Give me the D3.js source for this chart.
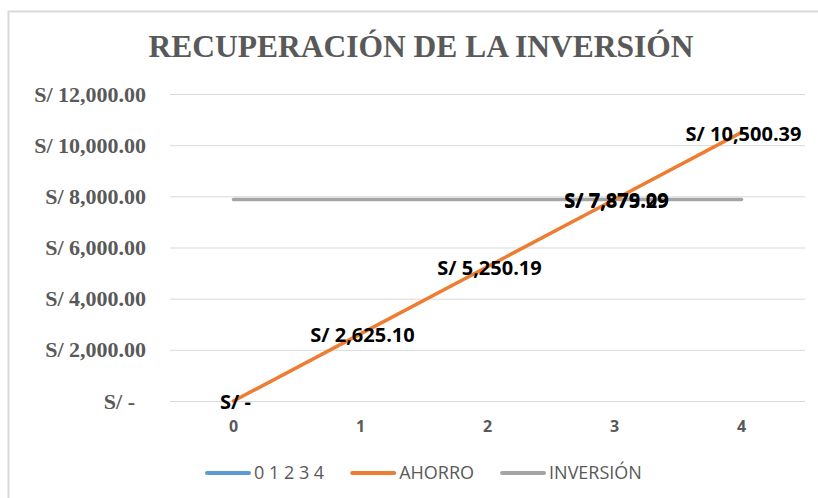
<!DOCTYPE html>
<html>
<head>
<meta charset="utf-8">
<script src="https://cdn.jsdelivr.net/npm/d3@7"></script>
<style>
  html, body { margin: 0; padding: 0; background: #fff; }
  svg { display: block; }
</style>
</head>
<body>
<svg id="chart" width="818" height="498"></svg>
<script>
(function () {
  'use strict';

  const periods = ['0', '1', '2', '3', '4'];
  const ahorro = [0, 2625.10, 5250.19, 7875.29, 10500.39];
  const inversion = [7879.09, 7879.09, 7879.09, 7879.09, 7879.09];
  const inversionLabelIdx = [3];
  const yTicks = [0, 2000, 4000, 6000, 8000, 10000, 12000];
  const legendItems = [
    { label: '0 1 2 3 4', color: '#5b9bd5' },
    { label: 'AHORRO', color: '#ed7d31' },
    { label: 'INVERSIÓN', color: '#a5a5a5' },
  ];

  const W = 818, H = 498;
  const margin = { top: 94, right: 13, bottom: 97, left: 170 };
  const iw = W - margin.left - margin.right;
  const ih = H - margin.top - margin.bottom;
  const serif = '"Liberation Serif", "Times New Roman", serif';
  const sans = '"Open Sans", "Liberation Sans", sans-serif';
  const grey = '#595959';

  const money = (v) => v === 0 ? 'S/ -' : 'S/ ' + d3.format(',.2f')(v);

  const svg = d3.select('#chart');

  // outer chart frame (only left + top visible in the crop)
  svg.append('rect').attr('x', 8.5).attr('y', 11.5).attr('width', 840).attr('height', 520)
    .attr('fill', 'none').attr('stroke', '#d9d9d9').attr('stroke-width', 2);

  svg.append('text').attr('x', 421).attr('y', 57).attr('text-anchor', 'middle')
    .style('font-family', serif).style('font-weight', 700).style('font-size', '31.5px')
    .style('fill', grey).text('RECUPERACIÓN DE LA INVERSIÓN');

  const g = svg.append('g').attr('transform', `translate(${margin.left},${margin.top})`);

  const x = d3.scaleBand().domain(periods).range([0, iw]);
  const y = d3.scaleLinear().domain([0, 12000]).range([ih, 0]);
  const cx = (i) => x(periods[i]) + x.bandwidth() / 2;

  // y axis + gridlines
  const yAxis = g.append('g')
    .call(d3.axisLeft(y).tickValues(yTicks).tickSize(-iw).tickPadding(24)
      .tickFormat((v) => v === 0 ? 'S/ -  ' : money(v)));
  yAxis.attr('font-family', serif).attr('font-size', 22);
  yAxis.select('.domain').remove();
  yAxis.selectAll('.tick line').attr('stroke', '#d9d9d9').attr('stroke-width', 1);
  yAxis.selectAll('.tick text')
    .style('font-family', serif).style('font-weight', 700).style('font-size', '22px')
    .style('fill', grey).style('white-space', 'pre');

  // x axis labels
  const xAxis = g.append('g').attr('transform', `translate(0,${ih})`)
    .call(d3.axisBottom(x).tickSize(0).tickPadding(20));
  xAxis.attr('font-family', sans).attr('font-size', 16).attr('font-weight', 700);
  xAxis.select('.domain').remove();
  xAxis.selectAll('.tick text')
    .style('font-family', sans).style('font-weight', 700).style('font-size', '16px')
    .style('fill', grey);

  const line = d3.line().x((_, i) => cx(i)).y((d) => y(d));

  g.append('path').datum(inversion).attr('d', line)
    .attr('fill', 'none').attr('stroke', '#a5a5a5').attr('stroke-width', 3.5)
    .attr('stroke-linecap', 'round');
  g.append('path').datum(ahorro).attr('d', line)
    .attr('fill', 'none').attr('stroke', '#ed7d31').attr('stroke-width', 3.5)
    .attr('stroke-linecap', 'round');

  // data labels, centred on the points
  const labelStyle = (sel) => sel
    .attr('text-anchor', 'middle').attr('dy', '0.36em')
    .style('font-family', sans).style('font-weight', 700).style('font-size', '20px')
    .style('fill', '#000');

  g.selectAll('text.lbl-ahorro').data(ahorro).enter().append('text')
    .attr('class', 'lbl-ahorro')
    .attr('x', (_, i) => cx(i) + 2).attr('y', (d) => y(d) + 1)
    .call(labelStyle).text((d) => money(d));
  g.selectAll('text.lbl-inv').data(inversionLabelIdx).enter().append('text')
    .attr('class', 'lbl-inv')
    .attr('x', (i) => cx(i) + 2).attr('y', (i) => y(inversion[i]))
    .call(labelStyle).text((i) => money(inversion[i]));

  // legend
  const leg = svg.append('g').attr('transform', 'translate(205,473)');
  let lx = 0;
  legendItems.forEach((it) => {
    leg.append('line').attr('x1', lx + 2).attr('x2', lx + 44).attr('y1', 0).attr('y2', 0)
      .attr('stroke', it.color).attr('stroke-width', 4).attr('stroke-linecap', 'round');
    const t = leg.append('text').attr('x', lx + 49).attr('y', 0).attr('dy', '0.36em')
      .style('font-family', sans).style('font-size', '18px').style('fill', grey)
      .text(it.label);
    lx += 49 + t.node().getComputedTextLength() + 26;
  });
})();
</script>
</body>
</html>
